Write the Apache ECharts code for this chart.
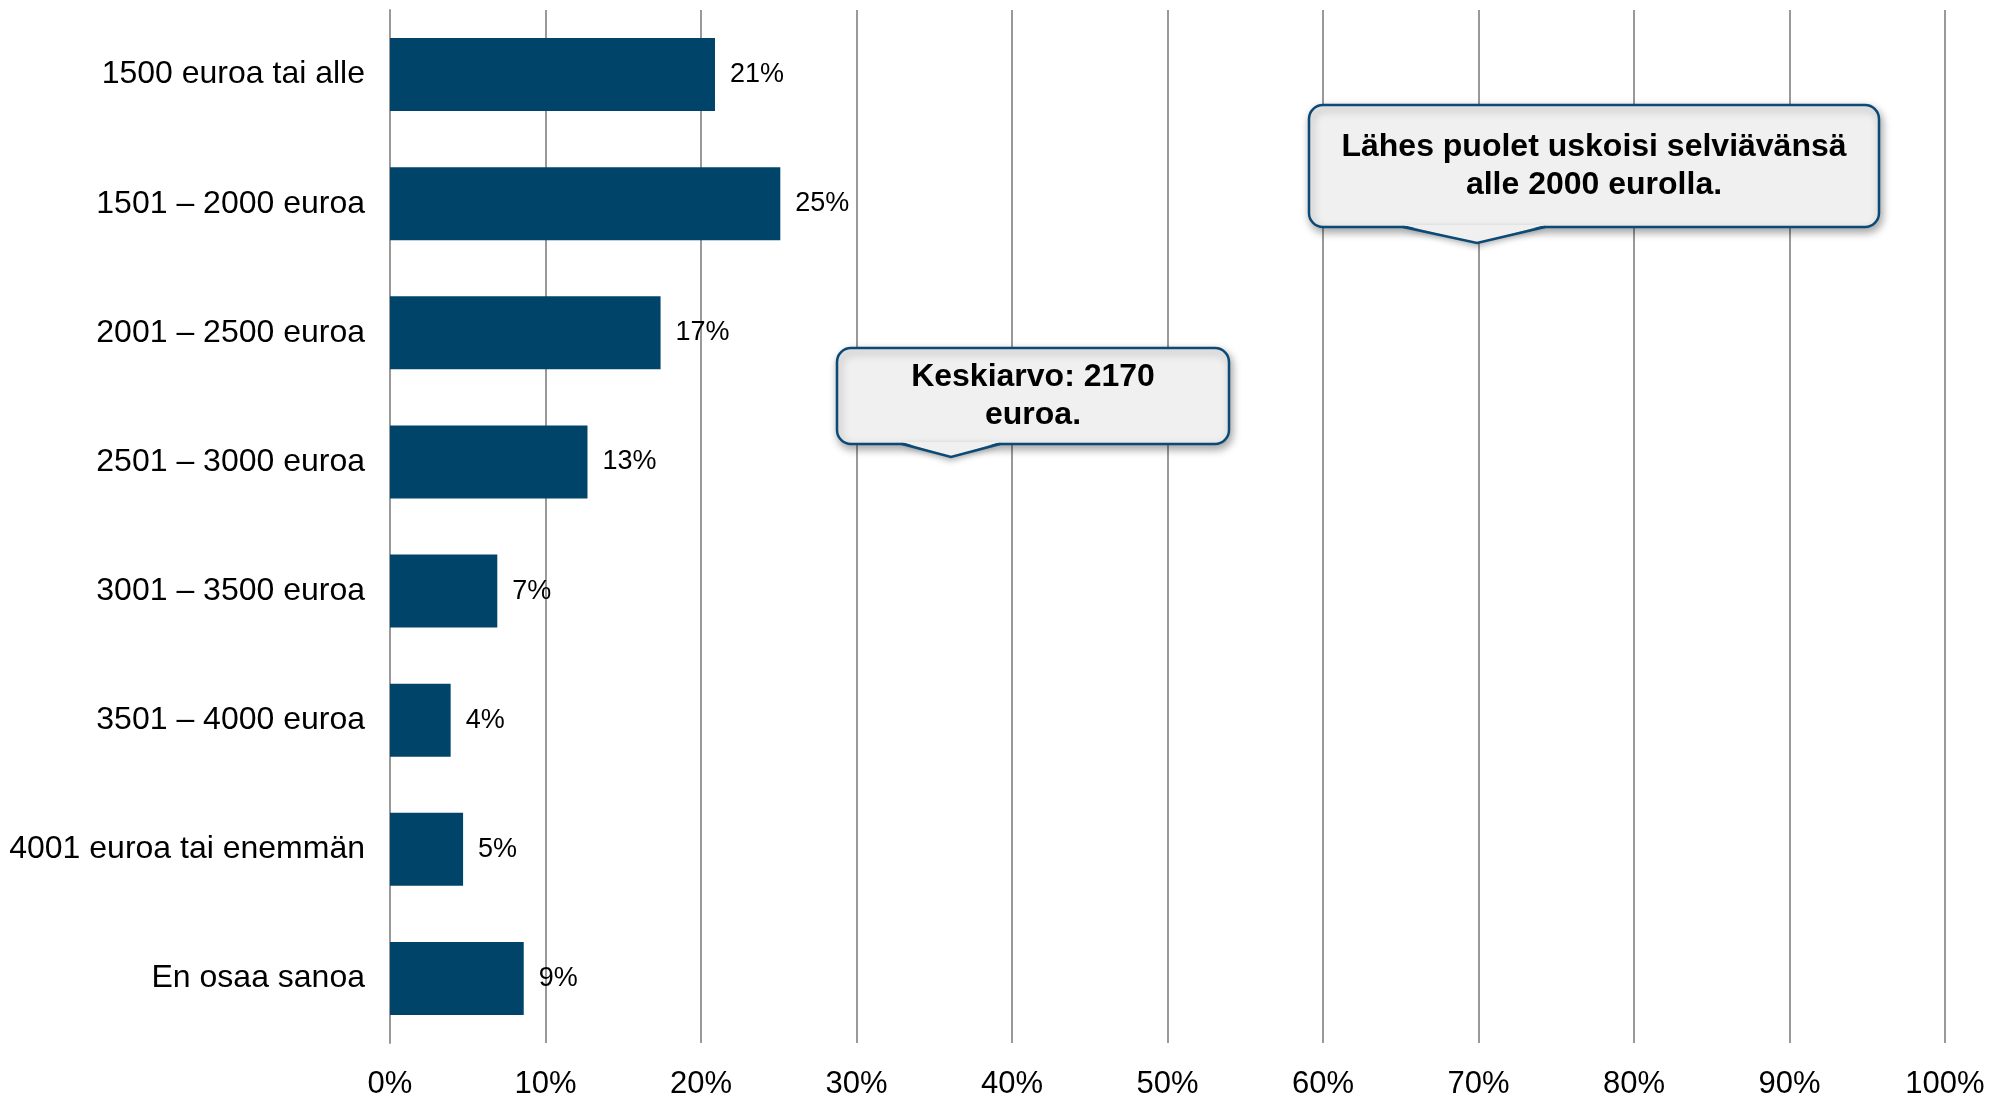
<!DOCTYPE html>
<html>
<head>
<meta charset="utf-8">
<script src="https://cdn.jsdelivr.net/npm/echarts@6/dist/echarts.min.js"></script>
<style>
  html, body { margin: 0; padding: 0; background: #fff; }
  #main { width: 1991px; height: 1100px; }
</style>
</head>
<body>
<div id="main"></div>
<script>
// categories, top to bottom
var categories = [
  '1500 euroa tai alle',
  '1501 – 2000 euroa',
  '2001 – 2500 euroa',
  '2501 – 3000 euroa',
  '3001 – 3500 euroa',
  '3501 – 4000 euroa',
  '4001 euroa tai enemmän',
  'En osaa sanoa'
];
// share of respondents (%)
var values = [20.9, 25.1, 17.4, 12.7, 6.9, 3.9, 4.7, 8.6];
var valueLabels = ['21%', '25%', '17%', '13%', '7%', '4%', '5%', '9%'];
var xTicks = [0, 10, 20, 30, 40, 50, 60, 70, 80, 90, 100];

var font = 'Liberation Sans, Arial, sans-serif';
var barColor = '#00446a';
var boxFill = '#f0f0f0';
var boxLine = '#0b4a76';

// callout: rounded box with a small pointer at the bottom
function callout(x, y, w, h, tipX, tipDy, baseL, baseR, lines) {
  var b = y + h;
  return {
    type: 'group',
    children: [
      {
        type: 'rect',
        shape: { x: x, y: y, width: w, height: h, r: 14 },
        style: {
          fill: boxFill, stroke: boxLine, lineWidth: 2.5,
          shadowColor: 'rgba(0,0,0,0.35)', shadowBlur: 8, shadowOffsetX: 2, shadowOffsetY: 4
        },
        z: 10
      },
      {
        type: 'polygon',
        shape: { points: [[baseL, b - 2], [tipX, b + tipDy], [baseR, b - 2]] },
        style: {
          fill: boxFill, stroke: null,
          shadowColor: 'rgba(0,0,0,0.3)', shadowBlur: 6, shadowOffsetY: 4
        },
        z: 11
      },
      {
        type: 'polyline',
        shape: { points: [[baseL, b], [tipX, b + tipDy], [baseR, b]] },
        style: { stroke: boxLine, lineWidth: 2.5, fill: null },
        z: 12
      },
      {
        type: 'text',
        style: {
          x: x + w / 2, y: y + h / 2,
          text: lines.join('\n'),
          align: 'center', verticalAlign: 'middle',
          font: 'bold 32px ' + font, lineHeight: 38,
          fill: '#000'
        },
        z: 13
      }
    ]
  };
}

var chart = echarts.init(document.getElementById('main'));

var option = {
  backgroundColor: '#ffffff',
  animation: false,
  grid: { left: 390, right: 46, top: 10, bottom: 47 },
  xAxis: {
    type: 'value',
    min: 0,
    max: 100,
    interval: 10,
    axisLine: { show: false },
    axisTick: { show: false },
    axisLabel: {
      margin: 26,
      fontFamily: font,
      fontSize: 31,
      color: '#000',
      formatter: function (v) { return xTicks.indexOf(v) >= 0 ? v + '%' : ''; }
    },
    splitLine: { show: true, lineStyle: { color: '#999999', width: 2 } }
  },
  yAxis: {
    type: 'category',
    inverse: true,
    data: categories,
    axisLine: { show: true, lineStyle: { color: '#999999', width: 2 } },
    axisTick: { show: false },
    axisLabel: {
      margin: 25,
      fontFamily: font,
      fontSize: 32,
      color: '#000'
    }
  },
  series: [{
    type: 'bar',
    data: values,
    barWidth: 73,
    itemStyle: { color: barColor },
    label: {
      show: true,
      position: 'right',
      distance: 15,
      fontFamily: font,
      fontSize: 27,
      color: '#000',
      formatter: function (p) { return valueLabels[p.dataIndex]; }
    }
  }],
  graphic: [
    callout(1309, 105, 570, 122, 1477, 16, 1403, 1545,
      ['Lähes puolet uskoisi selviävänsä', 'alle 2000 eurolla.']),
    callout(837, 348, 392, 96, 951, 13, 902, 1000,
      ['Keskiarvo: 2170', 'euroa.'])
  ]
};

chart.setOption(option);
</script>
</body>
</html>
